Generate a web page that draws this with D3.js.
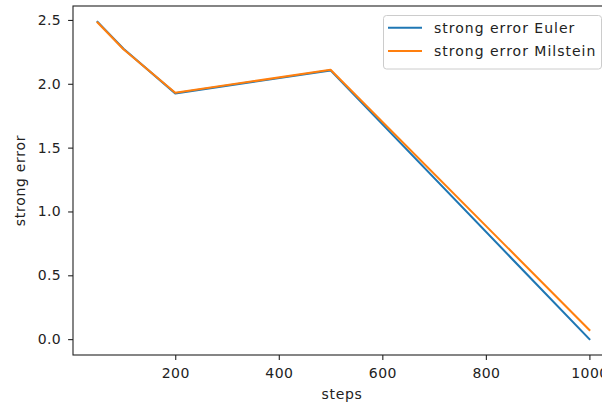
<!DOCTYPE html>
<html>
<head>
<meta charset="utf-8">
<script src="https://cdn.jsdelivr.net/npm/d3@7"></script>
<style>
  body { margin: 0; background: #fff; }
  text { font-family: "DejaVu Sans", sans-serif; }
</style>
</head>
<body>
<div id="chart"></div>
<script>
// Data.
var steps = [50, 100, 200, 500, 1000];
var eulerError = [2.485, 2.275, 1.925, 2.105, 0.0];
var milsteinError = [2.48, 2.27, 1.93, 2.11, 0.072];
var seriesNames = ["strong error Euler", "strong error Milstein"];
var xTicks = [200, 400, 600, 800, 1000];
var yTicks = [0, 0.5, 1.0, 1.5, 2.0, 2.5];

var divWidth = 602,
    divHeight = 406,
    margin = {top: 6, left: 73, bottom: 51, right: -12},
    width = divWidth - margin.left - margin.right,
    height = divHeight - margin.top - margin.bottom;

var colors = ["#1f77b4", "#ff7f0e"];
var fontSize = 14;

var svg = d3.select("#chart")
  .append("svg")
  .attr("width", divWidth)
  .attr("height", divHeight);

// matplotlib-like 5% margins around the data range
var xPad = (d3.max(steps) - d3.min(steps)) * 0.05;
var allY = eulerError.concat(milsteinError);
var yPad = (d3.max(allY) - d3.min(allY)) * 0.05;

var x = d3.scaleLinear()
  .domain([d3.min(steps) - xPad, d3.max(steps) + xPad])
  .range([margin.left, margin.left + width]);
var y = d3.scaleLinear()
  .domain([d3.min(allY) - yPad, d3.max(allY) + yPad])
  .range([margin.top + height, margin.top]);

var line = d3.line()
  .x(d => x(d[0]))
  .y(d => y(d[1]));

// Lines
[eulerError, milsteinError].forEach(function (vals, i) {
  svg.append("path")
    .datum(steps.map((s, j) => [s, vals[j]]))
    .attr("fill", "none")
    .attr("stroke", colors[i])
    .attr("stroke-width", 2.1)
    .attr("stroke-linejoin", "round")
    .attr("stroke-linecap", "square")
    .attr("d", line);
});

// Axes
var xAxis = svg.append("g")
  .attr("transform", `translate(0,${margin.top + height})`)
  .call(d3.axisBottom(x).tickValues(xTicks).tickFormat(d3.format("d"))
    .tickSize(4.9).tickPadding(8).tickSizeOuter(0));
var yAxis = svg.append("g")
  .attr("transform", `translate(${margin.left},0)`)
  .call(d3.axisLeft(y).tickValues(yTicks).tickFormat(d3.format(".1f"))
    .tickSize(4.9).tickPadding(7).tickSizeOuter(0));

[xAxis, yAxis].forEach(function (g) {
  g.selectAll("text")
    .attr("font-size", fontSize)
    .attr("fill", "#222")
    .attr("letter-spacing", 0.4)
    .attr("font-family", "DejaVu Sans");
  g.selectAll("line").attr("stroke", "#222").attr("stroke-width", 1.1);
  g.select(".domain").remove();
});

// Spines
svg.append("rect")
  .attr("x", margin.left)
  .attr("y", margin.top)
  .attr("width", width)
  .attr("height", height)
  .attr("fill", "none")
  .attr("stroke", "#222")
  .attr("stroke-width", 1.1);

// Axis labels
svg.append("text")
  .attr("x", 342)
  .attr("y", 399)
  .attr("text-anchor", "middle")
  .attr("font-size", fontSize)
  .attr("letter-spacing", 0.7)
  .attr("fill", "#222")
  .text("steps");

svg.append("text")
  .attr("transform", `translate(25,${margin.top + height / 2}) rotate(-90)`)
  .attr("text-anchor", "middle")
  .attr("font-size", fontSize)
  .attr("letter-spacing", 0.7)
  .attr("fill", "#222")
  .text("strong error");

// Legend
var legend = svg.append("g");
legend.append("rect")
  .attr("x", 383.5)
  .attr("y", 15.5)
  .attr("width", 218)
  .attr("height", 53.5)
  .attr("rx", 3)
  .attr("fill", "#fff")
  .attr("fill-opacity", 0.8)
  .attr("stroke", "#ccc")
  .attr("stroke-width", 1);

seriesNames.forEach(function (name, i) {
  var ly = 27.7 + i * 23.3;
  legend.append("line")
    .attr("x1", 388).attr("x2", 422)
    .attr("y1", ly).attr("y2", ly)
    .attr("stroke", colors[i])
    .attr("stroke-width", 2.1);
  legend.append("text")
    .attr("x", 434)
    .attr("y", ly + 5)
    .attr("font-size", fontSize)
    .attr("letter-spacing", 1)
    .attr("fill", "#222")
    .text(name);
});
</script>
</body>
</html>
